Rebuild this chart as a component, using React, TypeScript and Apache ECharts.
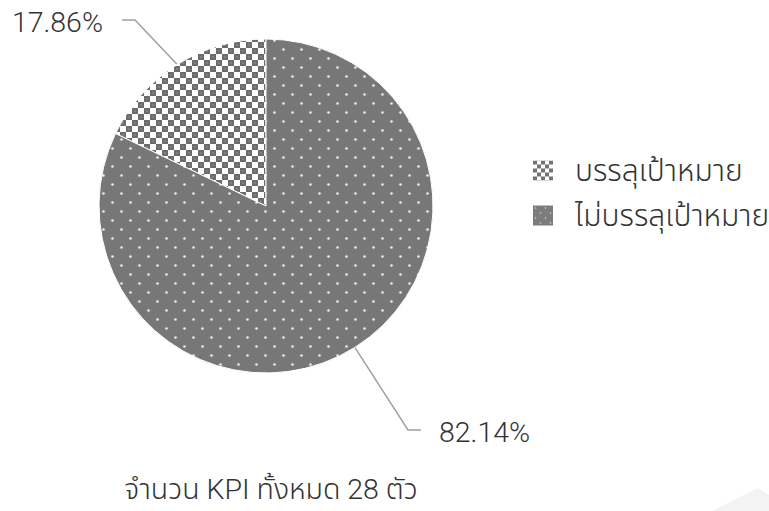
import React, { useEffect, useRef } from "react";
import * as echarts from "echarts";

const categories = ["บรรลุเป้าหมาย", "ไม่บรรลุเป้าหมาย"];
const counts = [5, 23];
const percentLabels = ["17.86%", "82.14%"];
const titleText = "จำนวน KPI ทั้งหมด 28 ตัว";

const FONT =
  "Roboto, 'Noto Sans Thai', 'Noto Sans Thai UI', Loma, Garuda, Waree, Sarabun, Laksaman, 'TH Sarabun New', sans-serif";

function svgUrl(svg: string) {
  return "data:image/svg+xml;charset=utf-8," + encodeURIComponent(svg);
}

const checkerSvg =
  '<svg xmlns="http://www.w3.org/2000/svg" width="12" height="12">' +
  '<rect width="12" height="12" fill="#ffffff"/>' +
  '<rect x="0" y="0" width="6" height="6" fill="#6c6c6c"/>' +
  '<rect x="6" y="6" width="6" height="6" fill="#6c6c6c"/>' +
  '<rect x="2" y="2" width="2" height="2" fill="#808080"/>' +
  '<rect x="8" y="8" width="2" height="2" fill="#808080"/>' +
  "</svg>";

const dotSvg =
  '<svg xmlns="http://www.w3.org/2000/svg" width="18" height="18">' +
  '<rect width="18" height="18" fill="#777777"/>' +
  '<circle cx="4.5" cy="4.5" r="1.8" fill="#9a9a9a"/>' +
  '<circle cx="13.5" cy="13.5" r="1.8" fill="#9a9a9a"/>' +
  '<circle cx="4.5" cy="4.5" r="1.1" fill="#f6f6f6"/>' +
  '<circle cx="13.5" cy="13.5" r="1.1" fill="#f6f6f6"/>' +
  "</svg>";

const checkerSmallSvg =
  '<svg xmlns="http://www.w3.org/2000/svg" width="8" height="8">' +
  '<rect width="8" height="8" fill="#ffffff"/>' +
  '<rect x="0" y="0" width="4" height="4" fill="#737373"/>' +
  '<rect x="4" y="4" width="4" height="4" fill="#737373"/>' +
  "</svg>";

const dotSmallSvg =
  '<svg xmlns="http://www.w3.org/2000/svg" width="10" height="10">' +
  '<rect width="10" height="10" fill="#7c7c7c"/>' +
  '<circle cx="2.5" cy="2.5" r="0.8" fill="#d8d8d8"/>' +
  '<circle cx="7.5" cy="7.5" r="0.8" fill="#d8d8d8"/>' +
  "</svg>";

const patterns: any[] = [
  { image: svgUrl(checkerSvg), repeat: "repeat", imageWidth: 12, imageHeight: 12 },
  { image: svgUrl(dotSvg), repeat: "repeat", imageWidth: 18, imageHeight: 18 },
];
const legendPatterns: any[] = [
  { image: svgUrl(checkerSmallSvg), repeat: "repeat", imageWidth: 8, imageHeight: 8 },
  { image: svgUrl(dotSmallSvg), repeat: "repeat", imageWidth: 10, imageHeight: 10 },
];

// label anchor placements (elbow point, end point, text x, alignment)
const labelPlacement = [
  { elbow: [135, 20], end: [122, 20], textX: 103, align: "right" },
  { elbow: [408, 430], end: [421, 430], textX: 439, align: "left" },
];

export default function App() {
  const ref = useRef<HTMLDivElement>(null);
  useEffect(() => {
    if (!ref.current) return;
    const chart = echarts.init(ref.current, null, { renderer: "svg" });
    chart.setOption({
      animation: false,
      backgroundColor: "#ffffff",
      title: {
        text: titleText,
        left: 266,
        textAlign: "center",
        top: 470,
        textStyle: { fontFamily: FONT, fontSize: 28.5, fontWeight: 300, color: "#333333" },
      },
      legend: {
        orient: "vertical",
        left: 528,
        top: 150,
        itemWidth: 20,
        itemHeight: 20,
        itemGap: 14,
        icon: "rect",
        data: categories.map((name, i) => ({
          name,
          itemStyle: { color: legendPatterns[i], borderWidth: 0 },
        })),
        textStyle: {
          fontFamily: FONT,
          fontSize: 30,
          lineHeight: 31,
          fontWeight: 300,
          color: "#333333",
          padding: [0, 0, 0, 17],
        },
      },
      series: [
        {
          type: "pie",
          center: [266, 206],
          radius: 167,
          startAngle: 90,
          clockwise: false,
          avoidLabelOverlap: false,
          itemStyle: { borderColor: "#ffffff", borderWidth: 1 },
          label: {
            show: true,
            position: "outside",
            fontFamily: FONT,
            fontSize: 28.5,
            fontWeight: 300,
            color: "#333333",
            formatter: (p: any) => percentLabels[p.dataIndex],
          },
          labelLine: {
            show: true,
            length: 55,
            length2: 14,
            lineStyle: { color: "#a0a0a0", width: 1.5 },
          },
          labelLayout: (params: any) => {
            const pl = labelPlacement[params.dataIndex];
            const start = params.labelLinePoints ? params.labelLinePoints[0] : pl.elbow;
            return {
              x: pl.textX,
              y: pl.end[1] + 2,
              align: pl.align,
              verticalAlign: "middle",
              labelLinePoints: [start, pl.elbow, pl.end],
            };
          },
          data: categories.map((name, i) => ({
            name,
            value: counts[i],
            itemStyle: { color: patterns[i] },
          })),
        },
      ],
      graphic: [
        {
          type: "polygon",
          shape: { points: [[712, 511], [758, 488], [769, 495], [769, 511]] },
          style: { fill: "#f3f3f3" },
          silent: true,
        },
      ],
    });
    return () => chart.dispose();
  }, []);
  return (
    <div
      ref={ref}
      style={{ position: "fixed", left: 0, top: 0, width: 769, height: 511 }}
    />
  );
}
